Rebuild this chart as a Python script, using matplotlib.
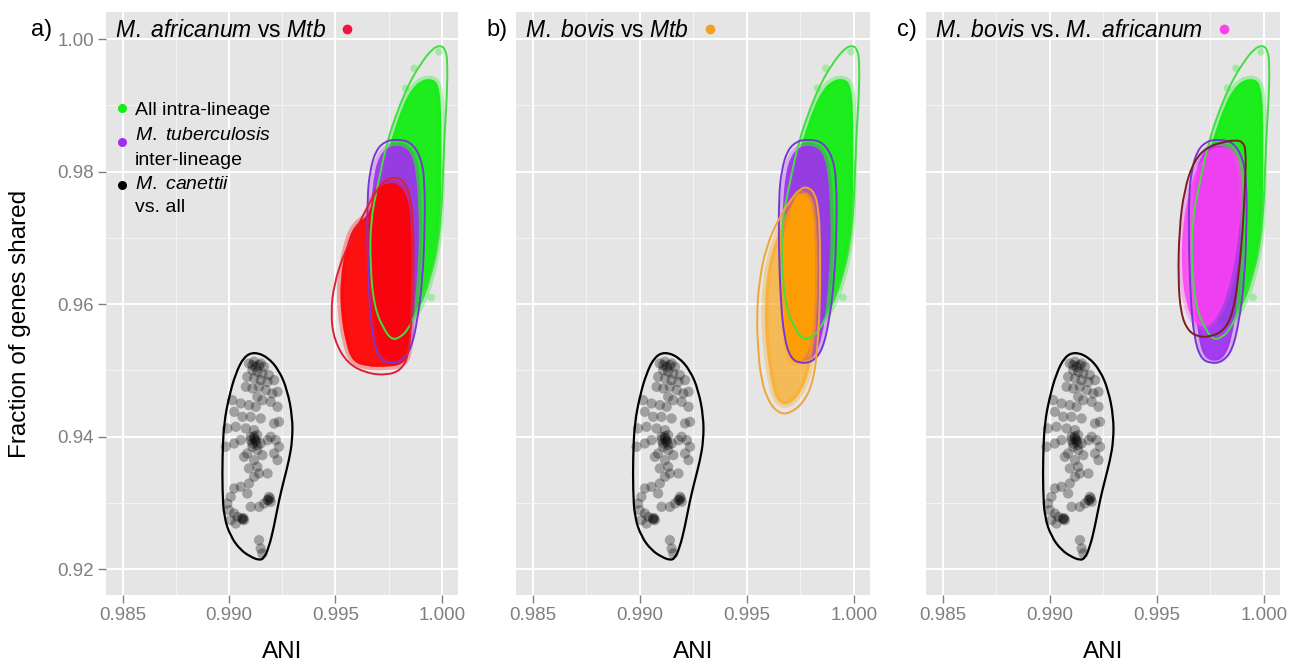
import numpy as np
import matplotlib
matplotlib.use("Agg")
import matplotlib.pyplot as plt
from matplotlib.path import Path
from matplotlib.patches import PathPatch
from matplotlib.lines import Line2D

plt.rcParams['font.family'] = ['Liberation Sans', 'DejaVu Sans']
plt.rcParams['mathtext.fontset'] = 'custom'
plt.rcParams['mathtext.rm'] = 'Liberation Sans'
plt.rcParams['mathtext.it'] = 'Liberation Sans:italic'

# ---------------- axes / text ----------------
x_ticks = [0.985, 0.990, 0.995, 1.000]
x_tick_labels = ["0.985", "0.990", "0.995", "1.000"]
x_minor = [0.9875, 0.9925, 0.9975]
y_ticks = [0.92, 0.94, 0.96, 0.98, 1.00]
y_tick_labels = ["0.92", "0.94", "0.96", "0.98", "1.00"]
y_minor = [0.93, 0.95, 0.97, 0.99]
x_range = (0.98422, 1.00076)
y_range = (0.9161, 1.0041)
x_label = "ANI"
y_label = "Fraction of genes shared"
panel_letters = ["a)", "b)", "c)"]
panel_titles = [r"$\mathit{M.\ africanum}$ vs $\mathit{Mtb}$",
                r"$\mathit{M.\ bovis}$ vs $\mathit{Mtb}$",
                r"$\mathit{M.\ bovis}$ vs. $\mathit{M.\ africanum}$"]
legend_labels = [["All intra-lineage"],
                 [r"$\mathit{M.\ tuberculosis}$", "inter-lineage"],
                 [r"$\mathit{M.\ canettii}$", "vs. all"]]

# ---------------- M. canettii vs all (individual points) ----------------
canettii_ani = [0.99094, 0.99118, 0.99141, 0.99165, 0.99110, 0.99133, 0.99157, 0.99188,
                0.99086, 0.99118, 0.99149, 0.99181, 0.99212, 0.99079, 0.99110, 0.99141,
                0.99173, 0.99204, 0.99228, 0.99133, 0.99157, 0.99196, 0.99228, 0.99016,
                0.99055, 0.99094, 0.99126, 0.99024, 0.99063, 0.99102, 0.99149, 0.99212,
                0.99235, 0.98992, 0.99032, 0.99079, 0.99118, 0.99133, 0.99102, 0.99126,
                0.99149, 0.99110, 0.99133, 0.99086, 0.99157, 0.99196, 0.99220, 0.99235,
                0.99212, 0.99228, 0.99181, 0.99055, 0.99024, 0.98985, 0.99071, 0.99118,
                0.99133, 0.99094, 0.99141, 0.99118, 0.99181, 0.99024, 0.99055, 0.99008,
                0.99094, 0.99086, 0.99188, 0.99181, 0.99165, 0.99141, 0.99102, 0.98992,
                0.99000, 0.99024, 0.99040, 0.99063, 0.99071, 0.99008, 0.99032, 0.99141,
                0.99149, 0.99157, 0.99192, 0.99185, 0.99196, 0.99063, 0.99067, 0.99118,
                0.99126, 0.99110, 0.99102, 0.99110, 0.99126, 0.99118, 0.99133, 0.99149]
canettii_frac = [0.95105, 0.95130, 0.95080, 0.95054, 0.95004, 0.94979, 0.94954, 0.94929,
                 0.94903, 0.94878, 0.94853, 0.94828, 0.94853, 0.94753, 0.94727, 0.94753,
                 0.94702, 0.94652, 0.94677, 0.94602, 0.94551, 0.94526, 0.94451, 0.94551,
                 0.94501, 0.94476, 0.94451, 0.94375, 0.94300, 0.94300, 0.94275, 0.94199,
                 0.94224, 0.94124, 0.94149, 0.94124, 0.94098, 0.94023, 0.93998, 0.93947,
                 0.93897, 0.93847, 0.93797, 0.93746, 0.93721, 0.93998, 0.93947, 0.93847,
                 0.93746, 0.93646, 0.93947, 0.93947, 0.93897, 0.93847, 0.93696, 0.93646,
                 0.93545, 0.93520, 0.93444, 0.93394, 0.93444, 0.93218, 0.93243, 0.93092,
                 0.93293, 0.93142, 0.93092, 0.93042, 0.92991, 0.92941, 0.92941, 0.92991,
                 0.92891, 0.92840, 0.92790, 0.92765, 0.92740, 0.92740, 0.92689, 0.92438,
                 0.92312, 0.92237, 0.93067, 0.93042, 0.93017, 0.92752, 0.92770, 0.93972,
                 0.93922, 0.93897, 0.93947, 0.95080, 0.95054, 0.94004, 0.93872, 0.95105]
canettii_contour_x = [0.99117, 0.99180, 0.99235, 0.99274, 0.99298, 0.99298, 0.99282, 0.99258,
                      0.99235, 0.99211, 0.99188, 0.99164, 0.99141, 0.99102, 0.99055, 0.99008,
                      0.98976, 0.98969, 0.98969, 0.98976, 0.99000, 0.99031, 0.99070]
canettii_contour_y = [0.95280, 0.95205, 0.95004, 0.94702, 0.94299, 0.93947, 0.93645, 0.93343,
                      0.93042, 0.92638, 0.92337, 0.92161, 0.92136, 0.92186, 0.92287, 0.92488,
                      0.92789, 0.93192, 0.93695, 0.94199, 0.94601, 0.94954, 0.95205]

# ---------------- All intra-lineage (dense cloud) ----------------
intra_cloud_x = [0.99901, 0.99956, 0.99987, 0.99998, 0.99998, 0.99995, 0.99980, 0.99948,
                 0.99901, 0.99854, 0.99807, 0.99760, 0.99721, 0.99697, 0.99697, 0.99713,
                 0.99744, 0.99776, 0.99815, 0.99854]
intra_cloud_y = [0.99381, 0.99406, 0.99306, 0.98878, 0.98124, 0.97369, 0.96866, 0.96363,
                 0.95960, 0.95759, 0.95708, 0.95809, 0.96111, 0.96614, 0.97318, 0.97872,
                 0.98274, 0.98627, 0.98979, 0.99230]
intra_sparse_x = [0.99987, 0.99870, 0.99830, 0.99950]
intra_sparse_y = [0.99809, 0.99560, 0.99260, 0.96100]
intra_contour_x = [0.99995, 1.00019, 1.00027, 1.00024, 1.00014, 1.00006, 0.99998, 0.99980,
                   0.99956, 0.99917, 0.99878, 0.99839, 0.99807, 0.99768, 0.99729, 0.99682,
                   0.99663, 0.99666, 0.99697, 0.99744, 0.99799, 0.99846, 0.99901, 0.99956]
intra_contour_y = [0.99910, 0.99834, 0.99633, 0.99130, 0.98627, 0.98023, 0.97369, 0.96866,
                   0.96513, 0.96161, 0.95859, 0.95608, 0.95507, 0.95457, 0.95608, 0.95960,
                   0.96614, 0.97268, 0.97771, 0.98476, 0.98979, 0.99331, 0.99633, 0.99859]

# ---------------- M. tuberculosis inter-lineage ----------------
inter_cloud_x = [0.99744, 0.99807, 0.99854, 0.99878, 0.99889, 0.99893, 0.99886, 0.99873,
                 0.99854, 0.99815, 0.99760, 0.99713, 0.99690, 0.99674, 0.99666, 0.99669,
                 0.99682, 0.99705]
inter_cloud_y = [0.98375, 0.98400, 0.98299, 0.98023, 0.97520, 0.97017, 0.96514, 0.96010,
                 0.95507, 0.95180, 0.95130, 0.95230, 0.95608, 0.96111, 0.96866, 0.97520,
                 0.97973, 0.98224]
inter_contour_x = [0.99792, 0.99854, 0.99901, 0.99920, 0.99920, 0.99909, 0.99886, 0.99854,
                   0.99807, 0.99752, 0.99705, 0.99674, 0.99658, 0.99650, 0.99650, 0.99663,
                   0.99690, 0.99737]
inter_contour_y = [0.98486, 0.98451, 0.98224, 0.97872, 0.97117, 0.96363, 0.95758, 0.95306,
                   0.95130, 0.95105, 0.95180, 0.95507, 0.96111, 0.96866, 0.97620, 0.98023,
                   0.98325, 0.98466]

# ---------------- a) M. africanum vs Mtb ----------------
afr_cloud_x = [0.99729, 0.99791, 0.99842, 0.99857, 0.99857, 0.99854, 0.99842, 0.99807,
               0.99744, 0.99650, 0.99580, 0.99549, 0.99525, 0.99522, 0.99549, 0.99588,
               0.99658, 0.99682]
afr_cloud_y = [0.97822, 0.97832, 0.97620, 0.97117, 0.96363, 0.95608, 0.95205, 0.95080,
               0.95054, 0.95054, 0.95130, 0.95407, 0.95859, 0.96363, 0.96866, 0.97193,
               0.97344, 0.97671]
afr_contour_x = [0.99768, 0.99823, 0.99854, 0.99867, 0.99862, 0.99854, 0.99842, 0.99807,
                 0.99744, 0.99650, 0.99556, 0.99494, 0.99478, 0.99494, 0.99541, 0.99603,
                 0.99666, 0.99721]
afr_contour_y = [0.97922, 0.97872, 0.97620, 0.97117, 0.96363, 0.95608, 0.95205, 0.95004,
                 0.94929, 0.94954, 0.95105, 0.95457, 0.95859, 0.96312, 0.96765, 0.97167,
                 0.97570, 0.97847]

# ---------------- b) M. bovis vs Mtb ----------------
bov_outer_x = [0.99762, 0.99809, 0.99827, 0.99832, 0.99821, 0.99801, 0.99762, 0.99700,
               0.99645, 0.99614, 0.99591, 0.99583, 0.99591, 0.99614, 0.99653, 0.99700]
bov_outer_y = [0.97721, 0.97620, 0.97117, 0.96363, 0.95608, 0.95105, 0.94702, 0.94476,
               0.94501, 0.94803, 0.95356, 0.95859, 0.96363, 0.96765, 0.97117, 0.97469]
bov_cloud_x = [0.99762, 0.99801, 0.99816, 0.99821, 0.99812, 0.99793, 0.99746, 0.99700,
               0.99684, 0.99668, 0.99661, 0.99668, 0.99700, 0.99731]
bov_cloud_y = [0.97671, 0.97570, 0.97117, 0.96363, 0.95708, 0.95306, 0.95105, 0.95155,
               0.95507, 0.95960, 0.96514, 0.97017, 0.97369, 0.97671]
bov_contour_x = [0.99778, 0.99816, 0.99837, 0.99843, 0.99843, 0.99832, 0.99809, 0.99762,
                 0.99700, 0.99653, 0.99606, 0.99567, 0.99552, 0.99547, 0.99559, 0.99591,
                 0.99653, 0.99715, 0.99754]
bov_contour_y = [0.97771, 0.97696, 0.97419, 0.96866, 0.96111, 0.95356, 0.94803, 0.94501,
                 0.94350, 0.94350, 0.94501, 0.94853, 0.95356, 0.95859, 0.96363, 0.96866,
                 0.97318, 0.97620, 0.97746]

# ---------------- c) M. bovis vs. M. africanum ----------------
ba_cloud_x = [0.99769, 0.99855, 0.99891, 0.99897, 0.99886, 0.99863, 0.99831, 0.99785,
              0.99730, 0.99675, 0.99636, 0.99616, 0.99620, 0.99644, 0.99683, 0.99730]
ba_cloud_y = [0.98375, 0.98350, 0.98124, 0.97620, 0.97117, 0.96614, 0.96161, 0.95809,
              0.95633, 0.95708, 0.96010, 0.96514, 0.97117, 0.97620, 0.98023, 0.98274]
ba_contour_x = [0.99870, 0.99902, 0.99917, 0.99914, 0.99902, 0.99881, 0.99855, 0.99816,
                0.99753, 0.99691, 0.99644, 0.99613, 0.99600, 0.99605, 0.99628, 0.99675,
                0.99738, 0.99816]
ba_contour_y = [0.98476, 0.98451, 0.98325, 0.97872, 0.97117, 0.96363, 0.95859, 0.95608,
                0.95507, 0.95507, 0.95608, 0.95859, 0.96363, 0.97117, 0.97721, 0.98174,
                0.98375, 0.98451]

# ---------------- colours ----------------
col_intra, col_intra_line = "#11EE11", "#44DD44"
col_inter, col_inter_line = "#A030F0", "#7A35D8"
col_can = "black"
panel_cloud_col = ["#FF0000", "#FFA000", "#FF40F5"]
panel_line_col = ["#DD2035", "#F0A535", "#7A1E22"]
panel_dot_col = ["#EE1545", "#F5A020", "#FF40EE"]
panel_clouds = [(afr_cloud_x, afr_cloud_y), (bov_cloud_x, bov_cloud_y), (ba_cloud_x, ba_cloud_y)]
panel_contours = [(afr_contour_x, afr_contour_y), (bov_contour_x, bov_contour_y),
                  (ba_contour_x, ba_contour_y)]

W, H = 1289, 665
fig = plt.figure(figsize=(W / 100, H / 100), dpi=100)
panel_px = [(106, 458), (516, 870), (926, 1280)]
top_px, bot_px = 12, 595


def smooth_path(xs, ys):
    pts = np.column_stack([xs, ys])
    mids = (pts + np.roll(pts, -1, axis=0)) / 2
    verts = [mids[-1]]
    codes = [Path.MOVETO]
    for i in range(len(pts)):
        verts += [pts[i], mids[i]]
        codes += [Path.CURVE3, Path.CURVE3]
    return Path(verts, codes)


def cloud(ax, xs, ys, color, alpha=0.92):
    ax.add_patch(PathPatch(smooth_path(xs, ys), facecolor=color, edgecolor=color,
                           lw=5, alpha=0.3, zorder=2))
    ax.add_patch(PathPatch(smooth_path(xs, ys), facecolor=color, edgecolor="none",
                           alpha=alpha, zorder=2))


def contour(ax, xs, ys, color, lw=1.4):
    ax.add_patch(PathPatch(smooth_path(xs, ys), facecolor="none", edgecolor=color,
                           lw=lw, zorder=5))


axes = []
for i, (l, r) in enumerate(panel_px):
    ax = fig.add_axes([l / W, 1 - bot_px / H, (r - l) / W, (bot_px - top_px) / H])
    axes.append(ax)
    ax.set_facecolor("#E5E5E5")
    for s in ax.spines.values():
        s.set_visible(False)
    ax.set_xlim(*x_range)
    ax.set_ylim(*y_range)
    ax.set_xticks(x_ticks)
    ax.set_xticklabels(x_tick_labels)
    ax.set_xticks(x_minor, minor=True)
    ax.set_yticks(y_ticks)
    ax.set_yticklabels(y_tick_labels)
    ax.set_yticks(y_minor, minor=True)
    ax.grid(which="major", color="white", lw=1.4)
    ax.grid(which="minor", color="#F4F4F4", lw=0.7)
    ax.set_axisbelow(True)
    ax.tick_params(which="major", length=5.5, width=1.0, color="#7F7F7F",
                   labelcolor="#7F7F7F", labelsize=13.5, pad=3)
    ax.tick_params(which="minor", length=0)
    if i > 0:
        ax.tick_params(axis="y", which="both", left=False, labelleft=False)

    # shared background layers
    cloud(ax, intra_cloud_x, intra_cloud_y, col_intra)
    ax.scatter(intra_sparse_x, intra_sparse_y, s=30, color=col_intra, alpha=0.3,
               edgecolors="none", zorder=2)
    cloud(ax, inter_cloud_x, inter_cloud_y, col_inter, alpha=0.9)
    ax.scatter(canettii_ani, canettii_frac, s=55, color=col_can, alpha=0.3,
               edgecolors="none", zorder=3)
    # panel specific comparison
    cx, cy = panel_clouds[i]
    if i == 1:
        cloud(ax, bov_outer_x, bov_outer_y, panel_cloud_col[i], alpha=0.45)
    cloud(ax, cx, cy, panel_cloud_col[i], alpha=0.9 if i < 2 else 0.78)
    # contours
    contour(ax, intra_contour_x, intra_contour_y, col_intra_line)
    contour(ax, inter_contour_x, inter_contour_y, col_inter_line)
    contour(ax, canettii_contour_x, canettii_contour_y, "black", lw=1.6)
    kx, ky = panel_contours[i]
    contour(ax, kx, ky, panel_line_col[i])

    # x label
    fig.text((l + r) / 2 / W, 1 - 663 / H, x_label, ha="center", va="bottom", fontsize=17.5)

# y label
fig.text(20 / W, 1 - 324 / H, y_label, rotation=90, ha="center", va="center", fontsize=17.5)

# panel letters and titles
letter_right = [52, 508, 917]
title_texts = []
for i, (l, r) in enumerate(panel_px):
    fig.text(letter_right[i] / W, 1 - 36 / H, panel_letters[i], ha="right",
             va="baseline", fontsize=17)
    t = fig.text((l + 9) / W, 1 - 37 / H, panel_titles[i], ha="left", va="baseline",
                 fontsize=16.5)
    title_texts.append(t)

fig.canvas.draw()
rend = fig.canvas.get_renderer()
for i, t in enumerate(title_texts):
    bb = t.get_window_extent(rend)
    fig.add_artist(Line2D([(bb.x1 + 21) / W], [(H - 29) / H], marker="o", ms=7,
                          color=panel_dot_col[i], mec="none", transform=fig.transFigure))

# legend (panel a)
leg_dot_y = [108, 142, 185]
leg_cols = [col_intra, col_inter, "black"]
leg_base = [[115], [140.5, 165], [189, 212.5]]
for k in range(3):
    fig.add_artist(Line2D([121.5 / W], [1 - leg_dot_y[k] / H], marker="o", ms=6.5,
                          color=leg_cols[k], mec="none", transform=fig.transFigure))
    for txt, yb in zip(legend_labels[k], leg_base[k]):
        fig.text(135 / W, 1 - yb / H, txt, ha="left", va="baseline", fontsize=14)

fig.savefig("out.png", dpi=100)
